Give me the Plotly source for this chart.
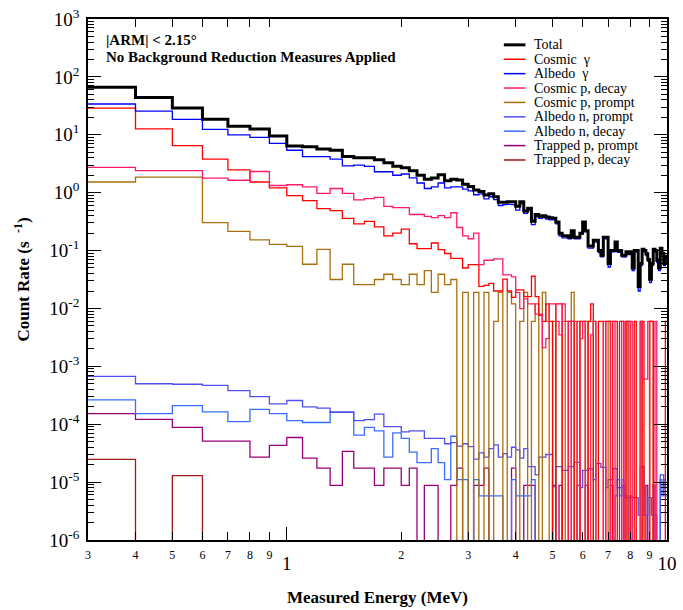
import numpy as np
import plotly.graph_objects as go

# ---------------- data (count rate per 0.1 MeV bin, 0.3 - 10 MeV) ----------------
E_MIN, E_MAX, BIN_W = 0.3, 10.0, 0.1

total = [66, 44, 29, 18.6, 14, 12.6, 9.5,
         6.4, 6.2, 5.7, 5.4, 4.2, 4.0, 4.0, 3.7, 3.3, 2.85,
         2.7, 2.4, 2.0, 1.7, 1.79, 2.04, 1.61, 1.7, 1.65, 1.40,
         1.28, 1.11, 1.05, 0.91, 0.96, 0.85, 0.68, 0.68, 0.70, 0.70,
         0.58, 0.70, 0.48, 0.54, 0.32, 0.42, 0.39, 0.40, 0.38, 0.37,
         0.36, 0.31, 0.20, 0.18, 0.18, 0.17, 0.22, 0.17, 0.17, 0.20,
         0.31, 0.22, 0.12, 0.12, 0.15, 0.15, 0.10, 0.083, 0.17, 0.17,
         0.06, 0.10, 0.10, 0.14, 0.10, 0.10, 0.083, 0.083, 0.095, 0.09,
         0.095, 0.05, 0.10, 0.10, 0.024, 0.06, 0.105, 0.10, 0.088, 0.07,
         0.032, 0.06, 0.105, 0.10, 0.068, 0.05, 0.11, 0.09, 0.06, 0.08]

cosmic_gamma = [28.9, 12.6, 6.5, 3.8, 2.47, 1.53, 1.21,
                0.89, 0.73, 0.53, 0.49, 0.36, 0.29, 0.32, 0.257, 0.18, 0.20,
                0.235, 0.131, 0.108, 0.108, 0.135, 0.104, 0.089, 0.073, 0.073, 0.050,
                0.057, 0.057, 0.024, 0.025, 0.027, 0.020, 0.020, 0.032, 0.020, 0.0155,
                0.021, 0.021, 0.016, 0.016, 0.036, 0.016, 0.0076, 0.006, 0.012, 0.006,
                0, 0.012, 0.012, 0, 0, 0.006, 0.006, 0, 0, 0.006,
                0.006, 0, 0.006, 0.012, 0, 0, 0.006, 0.006, 0, 0.006,
                0.006, 0, 0.006, 0.006, 0, 0.006, 0.006, 0, 0.006, 0.006,
                0, 0, 0.006, 0, 0, 0, 0.006, 0, 0, 0,
                0.006, 0.006, 0, 0, 0, 0, 0, 0, 0, 0.006]

albedo_gamma = [34, 25.7, 18.4, 12.4, 10, 9.0, 7.1,
                5.4, 4.2, 4.2, 3.8, 2.9, 3.0, 2.85, 2.3, 2.3, 2.0,
                2.1, 1.8, 1.47, 1.18, 1.26, 1.47, 1.21, 1.26, 1.26, 1.15,
                1.07, 0.92, 0.95, 0.78, 0.85, 0.76, 0.60, 0.62, 0.63, 0.62,
                0.50, 0.64, 0.44, 0.50, 0.28, 0.39, 0.36, 0.37, 0.35, 0.34,
                0.34, 0.29, 0.18, 0.165, 0.165, 0.16, 0.21, 0.16, 0.16, 0.19,
                0.29, 0.21, 0.11, 0.11, 0.14, 0.14, 0.092, 0.078, 0.16, 0.16,
                0.052, 0.095, 0.095, 0.13, 0.093, 0.094, 0.078, 0.077, 0.09, 0.085,
                0.088, 0.045, 0.095, 0.094, 0.02, 0.055, 0.10, 0.095, 0.082, 0.065,
                0.028, 0.055, 0.10, 0.094, 0.062, 0.045, 0.105, 0.085, 0.055, 0.075]

cosmic_p_decay = [2.74, 2.41, 2.41, 1.79, 1.64, 2.32, 1.33,
                  1.37, 1.26, 0.97, 1.18, 0.97, 0.75, 0.79, 0.83, 0.58, 0.55,
                  0.55, 0.42, 0.42, 0.39, 0.37, 0.40, 0.37, 0.45, 0.25, 0.18,
                  0.16, 0.20, 0.057, 0.068, 0.068, 0.072, 0.072, 0.038, 0.038, 0.035,
                  0.019, 0.0099, 0.0146, 0.012, 0.012, 0.008, 0.008, 0.0021, 0.003, 0.012,
                  0.012, 0.006, 0.0035, 0.012, 0.006, 0, 0.006, 0.006, 0, 0.003,
                  0.006, 0, 0, 0.0035, 0.006, 0, 0, 0, 0.006, 0,
                  0, 0.006, 0.006, 0, 0, 0, 0.006, 0, 0, 0.006,
                  0.006, 0, 0, 0, 0, 0.006, 0.0006, 0.0006, 0.0006, 0.006,
                  0, 0, 0, 0.006, 0, 0, 0, 0, 0, 0]

cosmic_p_prompt = [1.53, 1.86, 1.86, 0.303, 0.214, 0.153, 0.128,
                   0.118, 0.058, 0.105, 0.0316, 0.058, 0.0257, 0.0257, 0.0316, 0.039, 0.0316,
                   0.0257, 0.039, 0.0257, 0.045, 0.019, 0.039, 0.0257, 0.0316, 0, 0.019,
                   0, 0.019, 0, 0.019, 0, 0.006, 0.019, 0, 0.019, 0.012,
                   0, 0.006, 0.019, 0, 0.006, 0.012, 0, 0.019, 0.006, 0,
                   0.006, 0, 0, 0.006, 0, 0, 0.019, 0, 0.006, 0,
                   0, 0.006, 0, 0, 0.006, 0, 0, 0, 0, 0,
                   0.006, 0, 0, 0, 0, 0, 0, 0, 0.006, 0,
                   0, 0, 0, 0, 0, 0.006, 0, 0, 0, 0,
                   0.006, 0.006, 0, 0, 0, 0, 0, 0, 0, 0]

albedo_n_prompt = [6.7e-4, 5.0e-4, 4.9e-4, 4.7e-4, 3.8e-4, 3.0e-4, 2.25e-4,
                   2.57e-4, 2.0e-4, 1.9e-4, 1.6e-4, 1.6e-4, 1.15e-4, 1.2e-4, 1.5e-4, 9.1e-5, 9.1e-5,
                   7.4e-5, 7.7e-5, 7.7e-5, 5.7e-5, 5.7e-5, 5.7e-5, 4.6e-5, 4.8e-5, 4.2e-5, 4.6e-5,
                   4.1e-5, 2.5e-5, 3.2e-5, 2.7e-5, 3.8e-5, 4.4e-5, 2.7e-5, 3.1e-5, 2.7e-5, 4.0e-5,
                   3.6e-5, 2.6e-5, 3.8e-5, 1.85e-5, 1.85e-5, 1.33e-5, 2.7e-5, 2.7e-5, 3.0e-5, 3.0e-5,
                   8.3e-6, 1.85e-5, 1.85e-5, 1.6e-5, 1.6e-5, 1.85e-5, 1.85e-5, 2.2e-5, 2.2e-5, 8e-6,
                   1.6e-5, 1.6e-5, 1.7e-5, 1.7e-5, 1.1e-5, 2.1e-5, 2.1e-5, 1.8e-5, 1.8e-5, 8e-6,
                   1.1e-5, 1.1e-5, 1.7e-5, 1.7e-5, 8e-6, 8e-6, 8e-6, 5.4e-6, 5.4e-6, 5.4e-6,
                   5.4e-6, 5.4e-6, 5.4e-6, 5.4e-6, 2.7e-6, 1.85e-5, 1.85e-5, 2.7e-6, 2.7e-6, 5.4e-6,
                   5.4e-6, 2.7e-6, 2.7e-6, 2.7e-6, 0, 0, 1.33e-5, 1.33e-5, 8e-6, 8e-6]

albedo_n_decay = [2.64e-4, 1.53e-4, 2.1e-4, 1.63e-4, 1.11e-4, 1.8e-4, 1.53e-4,
                  1.15e-4, 1.07e-4, 1.07e-4, 1.63e-4, 1.63e-4, 6.5e-5, 8.8e-5, 7.7e-5, 2.7e-5, 7.1e-5,
                  5.7e-5, 3.3e-5, 2.17e-5, 2.17e-5, 3.8e-5, 2.17e-5, 1.1e-5, 6.2e-5, 1.1e-5, 1.1e-5,
                  0, 1.1e-5, 5.8e-6, 5.8e-6, 5.8e-6, 5.8e-6, 5.8e-6, 0, 0, 1.1e-5,
                  5.8e-6, 5.8e-6, 5.8e-6, 5.8e-6, 1.1e-5, 0, 0, 0, 0, 0,
                  0, 0, 0, 0, 0, 0, 0, 0, 0, 0,
                  0, 0, 0, 0, 0, 0, 0, 0, 0, 0,
                  0, 0, 0, 5.8e-6, 1.1e-5, 5.8e-6, 1.1e-5, 5.8e-6, 5.8e-6, 0,
                  5.8e-6, 0, 0, 0, 0, 0, 0, 0, 0, 0,
                  0, 0, 0, 0, 0, 0, 1.1e-5, 5.8e-6, 1.1e-5, 5.8e-6]

trapped_p_prompt = [1.53e-4, 1.21e-4, 8.8e-5, 5.1e-5, 5.1e-5, 2.7e-5, 4.3e-5,
                    5.9e-5, 2.6e-5, 1.75e-5, 8.8e-6, 3.4e-5, 1.75e-5, 1.75e-5, 8.8e-6, 1.75e-5, 1.75e-5,
                    8.8e-6, 1.75e-5, 0, 8.8e-6, 8.8e-6, 0, 0, 8.8e-6, 1.75e-5, 0,
                    0, 8.8e-6, 8.8e-6, 1.75e-5, 0, 0, 0, 0, 0, 1.75e-5,
                    0, 0, 8.8e-6, 8.8e-6, 8.8e-6, 0, 0, 0, 0, 0,
                    8.8e-6, 0, 8.8e-6, 0, 0, 0, 0, 0, 8.8e-6, 0,
                    0, 8.8e-6, 0, 0, 0, 0, 0, 0, 0, 0,
                    0, 8.8e-6, 0, 0, 0, 0, 8.8e-6, 0, 0, 0,
                    0, 0, 0, 0, 0, 0, 0, 0, 8.8e-6, 0,
                    0, 0, 8.8e-6, 0, 0, 0, 0, 0, 0, 0]

trapped_p_decay = [2.47e-5, 0, 1.29e-5] + [0] * 94

# name, values, colour, line width, legend position (drawing order: bottom -> top)
series = [
    ("Trapped p, decay", trapped_p_decay, "#a01818", 1.3, 9),
    ("Trapped p, prompt", trapped_p_prompt, "#99007a", 1.3, 8),
    ("Albedo n, decay", albedo_n_decay, "#3a6cff", 1.3, 7),
    ("Albedo n, prompt", albedo_n_prompt, "#5050f0", 1.3, 6),
    ("Cosmic p, prompt", cosmic_p_prompt, "#a8700e", 1.3, 5),
    ("Cosmic  \u03b3", cosmic_gamma, "#ff0000", 1.3, 2),
    ("Cosmic p, decay", cosmic_p_decay, "#ff1a66", 1.3, 4),
    ("Albedo  \u03b3", albedo_gamma, "#0000ff", 1.3, 3),
    ("Total", total, "#000000", 3, 1),
]

# ---------------- figure ----------------
edges = np.round(np.arange(E_MIN, E_MAX + BIN_W / 2, BIN_W), 2)
TINY = 1e-12
FONT = "Liberation Serif"

fig = go.Figure()
for name, vals, color, lw, rank in series:
    y = [v if v > 0 else TINY for v in vals]
    fig.add_trace(go.Scatter(
        x=list(edges), y=y + [y[-1]], mode="lines", name=name,
        line=dict(color=color, width=lw, shape="hv"),
        showlegend=False, hoverinfo="skip"))

# invisible trace to carry the secondary (major-label) x axis
fig.add_trace(go.Scatter(x=[1], y=[1], xaxis="x2", mode="markers",
                         marker=dict(opacity=0), showlegend=False, hoverinfo="skip"))

minor_x = [0.3, 0.4, 0.5, 0.6, 0.7, 0.8, 0.9, 2, 3, 4, 5, 6, 7, 8, 9]
minor_x_text = ["3", "4", "5", "6", "7", "8", "9", "2", "3", "4", "5", "6", "7", "8", "9"]
major_x = [1, 10]
major_x_text = ["1", "10"]
y_decades = list(range(-6, 4))

fig.update_layout(
    width=683, height=610,
    margin=dict(l=88, r=6, t=13, b=63),
    paper_bgcolor="white", plot_bgcolor="white",
    font=dict(family=FONT, color="black"),
    showlegend=False,
    xaxis=dict(
        type="log", range=[np.log10(E_MIN), np.log10(E_MAX)],
        tickmode="array", tickvals=minor_x, ticktext=minor_x_text,
        ticks="inside", ticklen=8, tickwidth=1, tickcolor="black",
        tickfont=dict(family=FONT, size=12), ticklabelstandoff=3,
        ticklabeloverflow="allow",
        showline=True, linecolor="black", linewidth=1.5, mirror="ticks",
        showgrid=False, zeroline=False,
        title=dict(text="Measured Energy (MeV)",
                   font=dict(family=FONT, size=17, weight="bold"), standoff=30),
    ),
    xaxis2=dict(
        type="log", range=[np.log10(E_MIN), np.log10(E_MAX)],
        overlaying="x", side="bottom", anchor="y",
        tickmode="array", tickvals=major_x, ticktext=major_x_text,
        ticks="inside", ticklen=13, tickwidth=1, tickcolor="black",
        tickfont=dict(family=FONT, size=19), ticklabelstandoff=10,
        ticklabeloverflow="allow",
        showline=False, showgrid=False, zeroline=False,
    ),
    yaxis=dict(
        type="log", range=[-6, 3],
        tickmode="array", tickvals=[10.0 ** k for k in y_decades],
        ticktext=[f"10<sup>{k}</sup>" for k in y_decades],
        ticks="inside", ticklen=13, tickwidth=1, tickcolor="black",
        tickfont=dict(family=FONT, size=19), ticklabelstandoff=3,
        ticklabeloverflow="allow",
        minor=dict(tickmode="array",
                   tickvals=[m * 10.0 ** k for k in range(-6, 3) for m in range(2, 10)],
                   ticks="inside", ticklen=6, tickwidth=1, tickcolor="black"),
        showline=True, linecolor="black", linewidth=1.5, mirror="ticks",
        showgrid=False, zeroline=False,
        title=dict(text="Count Rate (s  <sup>-1</sup>)",
                   font=dict(family=FONT, size=17, weight="bold")),
    ),
)

# header text
fig.add_annotation(xref="paper", yref="paper", x=(104 - 88) / 589, y=(547 - 34.5) / 534,
                   text="|ARM| &lt; 2.15\u00b0", showarrow=False, xanchor="left", yanchor="middle",
                   font=dict(family=FONT, size=15, weight="bold"))
fig.add_annotation(xref="paper", yref="paper", x=(104 - 88) / 589, y=(547 - 51.5) / 534,
                   text="No Background Reduction Measures Applied", showarrow=False,
                   xanchor="left", yanchor="middle",
                   font=dict(family=FONT, size=15, weight="bold"))

# legend (drawn manually for compact ROOT-like spacing)
legend_items = sorted(series, key=lambda s: s[4])
for k, (name, vals, color, lw, rank) in enumerate(legend_items):
    py = 39.5 + 14.75 * k
    yp = (547 - py) / 534
    fig.add_shape(type="line", xref="paper", yref="paper",
                  x0=(511 - 88) / 589, x1=(533 - 88) / 589, y0=yp, y1=yp,
                  line=dict(color=color, width=max(lw, 1.5)))
    fig.add_annotation(xref="paper", yref="paper", x=(540 - 88) / 589, y=yp,
                       text=name, showarrow=False, xanchor="left", yanchor="middle",
                       font=dict(family=FONT, size=14))

fig.write_html("out.html")
